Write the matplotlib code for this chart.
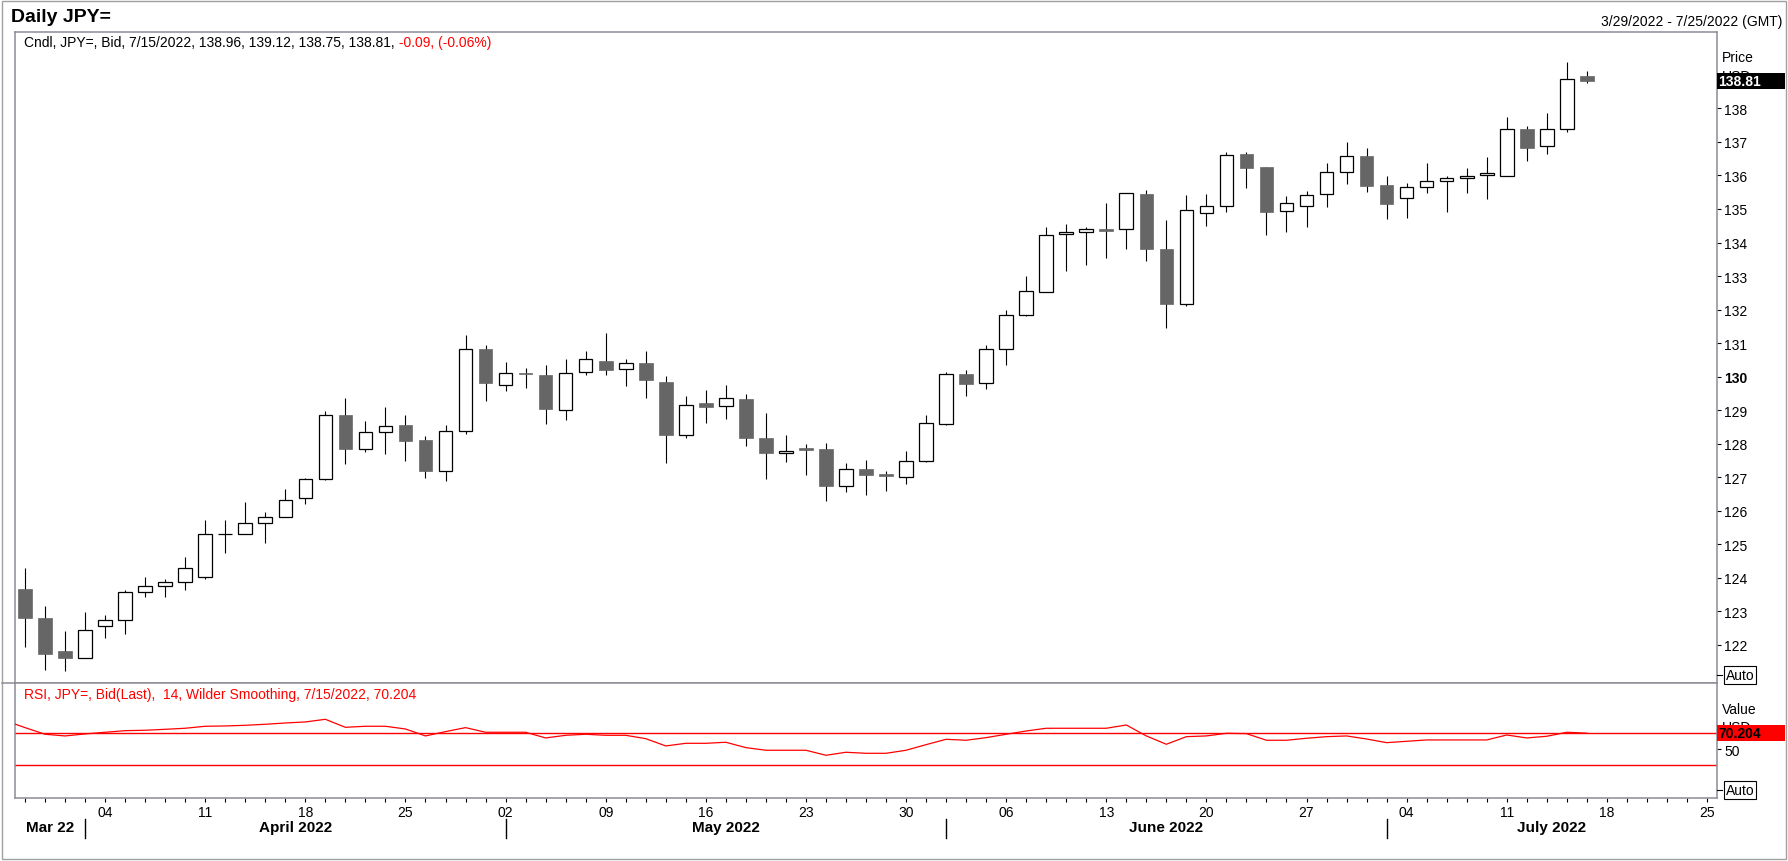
import numpy as np
import pandas as pd
import matplotlib
matplotlib.use("Agg")
import matplotlib.pyplot as plt
import matplotlib.transforms as mtransforms
from matplotlib.patches import Rectangle
from matplotlib.lines import Line2D

plt.rcParams['font.family'] = ['Liberation Sans', 'DejaVu Sans']

# daily USD/JPY candles, 3/29/2022 - 7/15/2022
dates = pd.bdate_range("2022-03-29", "2022-07-15")
axis_end = pd.Timestamp("2022-07-25")

opens = [123.67, 122.81, 121.82, 121.60, 122.56, 122.74, 123.57, 123.75, 123.87, 124.02,
         125.31, 125.31, 125.63, 125.81, 126.38, 126.95, 128.86, 127.84, 128.35, 128.57,
         128.12, 127.18, 128.38, 130.83, 129.75, 130.08, 130.05, 129.01, 130.15, 130.47,
         130.22, 130.41, 129.84, 128.27, 129.21, 129.11, 129.33, 128.16, 127.73, 127.86,
         127.83, 126.74, 127.25, 127.08, 127.02, 127.49, 128.59, 130.08, 129.80, 130.82,
         131.84, 132.53, 134.24, 134.30, 134.40, 134.39, 135.44, 133.80, 132.17, 134.87,
         135.08, 136.64, 136.25, 134.93, 135.08, 135.44, 136.09, 136.57, 135.71, 135.32,
         135.67, 135.85, 135.91, 136.00, 135.97, 137.40, 136.87, 137.40, 138.96]
highs = [124.28, 123.17, 122.42, 122.99, 122.90, 123.64, 124.03, 123.97, 124.63, 125.73,
         125.73, 126.27, 125.97, 126.66, 126.99, 128.96, 129.37, 128.69, 129.08, 128.84,
         128.22, 128.57, 131.23, 130.93, 130.45, 130.26, 130.35, 130.53, 130.77, 131.31,
         130.52, 130.77, 130.02, 129.42, 129.60, 129.75, 129.48, 128.91, 128.25, 128.00,
         128.03, 127.43, 127.52, 127.19, 127.77, 128.85, 130.14, 130.20, 130.95, 132.00,
         132.99, 134.45, 134.55, 134.45, 135.18, 135.47, 135.56, 134.67, 135.42, 135.45,
         136.69, 136.69, 136.25, 135.38, 135.53, 136.37, 136.99, 136.82, 135.98, 135.77,
         136.37, 135.97, 136.22, 136.55, 137.74, 137.49, 137.86, 139.38, 139.12]
lows = [121.92, 121.24, 121.21, 121.60, 122.19, 122.32, 123.42, 123.42, 123.62, 123.96,
        124.73, 125.31, 125.03, 125.81, 126.19, 126.91, 127.38, 127.74, 127.68, 127.47,
        126.97, 126.88, 128.28, 129.27, 129.56, 129.65, 128.58, 128.70, 130.04, 130.06,
        129.73, 129.37, 127.42, 128.17, 128.62, 128.74, 127.93, 126.94, 127.45, 127.06,
        126.28, 126.55, 126.46, 126.58, 126.79, 127.45, 128.56, 129.43, 129.62, 130.36,
        131.80, 132.53, 133.15, 133.33, 133.53, 133.81, 133.45, 131.46, 132.12, 134.50,
        134.90, 135.62, 134.23, 134.32, 134.47, 135.07, 135.75, 135.50, 134.71, 134.74,
        135.49, 134.92, 135.49, 135.30, 135.97, 136.44, 136.65, 137.30, 138.75]
closes = [122.79, 121.74, 121.62, 122.44, 122.74, 123.57, 123.75, 123.87, 124.29, 125.31,
          125.31, 125.63, 125.81, 126.32, 126.95, 128.86, 127.83, 128.35, 128.53, 128.07,
          127.18, 128.38, 130.83, 129.80, 130.11, 130.07, 129.03, 130.11, 130.53, 130.20,
          130.40, 129.91, 128.26, 129.14, 129.10, 129.35, 128.17, 127.72, 127.79, 127.81,
          126.73, 127.25, 127.06, 127.03, 127.49, 128.63, 130.07, 129.79, 130.82, 131.84,
          132.56, 134.21, 134.30, 134.39, 134.35, 135.47, 133.81, 132.17, 134.96, 135.08,
          136.60, 136.23, 134.92, 135.17, 135.41, 136.09, 136.57, 135.69, 135.16, 135.67,
          135.85, 135.91, 135.98, 136.07, 137.40, 136.83, 137.40, 138.89, 138.81]

# RSI(14), starting one session earlier (3/28) so the line enters from the left edge
rsi_values = [86.0,
              77.1, 68.8, 66.7, 69.2, 71.3, 73.3, 73.8, 75.0, 76.3, 78.8,
              79.2, 80.0, 81.3, 82.9, 84.2, 87.5, 77.5, 78.8, 78.8, 75.4,
              66.7, 72.1, 77.1, 71.3, 71.3, 71.3, 64.2, 67.5, 68.8,
              67.5, 67.5, 63.3, 54.2, 57.5, 57.5, 58.8, 52.1, 48.8, 48.8,
              48.8, 42.5, 46.3, 45.0, 45.0, 48.8, 55.8, 62.5, 61.3, 64.6,
              68.8, 72.9, 76.3, 76.3, 76.3, 76.3, 80.4, 66.7, 56.3, 65.8,
              66.7, 70.0, 69.6, 61.3, 61.3, 63.8, 65.8, 66.7, 62.9, 58.3,
              60.0, 61.7, 61.7, 61.7, 61.7, 67.9, 64.2, 66.3, 71.3, 70.2]
rsi_levels = [70, 30]

price_ticks = list(range(122, 139))
month_names = ["Mar 22", "April 2022", "May 2022", "June 2022", "July 2022"]

W, H = 1788, 862


def fx(px):
    return px / W


def fy(py):
    return 1 - py / H


axis_days = pd.bdate_range(dates[0], axis_end)
n_axis = len(axis_days)
x = np.arange(len(dates))
o = np.array(opens)
h = np.array(highs)
l = np.array(lows)
c = np.array(closes)

fig = plt.figure(figsize=(W / 100, H / 100), dpi=100)
ax = fig.add_axes([fx(15), fy(684), fx(1717) - fx(15), fy(33) - fy(684)])
ax_r = fig.add_axes([fx(15), fy(799), fx(1717) - fx(15), fy(684) - fy(799)], sharex=ax)

border = '#8c8c96'
for a in (ax, ax_r):
    for s in a.spines.values():
        s.set_color(border)
        s.set_linewidth(1.1)

# candles: wicks first, bodies on top
up = c >= o
body_lo = np.minimum(o, c)
body_h = np.abs(c - o)
ax.vlines(x, l, h, color='black', lw=0.8, zorder=2)
ax.bar(x[up], body_h[up], bottom=body_lo[up], width=0.68, facecolor='white',
       edgecolor='black', linewidth=0.9, zorder=3)
ax.bar(x[~up], np.maximum(body_h[~up], 0.03), bottom=body_lo[~up], width=0.68,
       facecolor='#666666', edgecolor='#666666', linewidth=0.5, zorder=3)

ax.set_xlim(-0.5, n_axis - 0.5)
ax.set_ylim(120.86, 140.28)
ax.yaxis.tick_right()
ax.set_yticks(price_ticks, [str(t) for t in price_ticks])
for lab in ax.get_yticklabels():
    if lab.get_text() == '130':
        lab.set_fontweight('bold')
ax.tick_params(axis='y', direction='out', length=3, width=0.8, pad=2, labelsize=10)
ax.tick_params(axis='x', bottom=False, labelbottom=False)

# RSI panel
ax_r.plot(np.arange(-1, len(rsi_values) - 1), rsi_values, color='#ff0000', lw=0.9, zorder=3)
for lev in rsi_levels:
    ax_r.axhline(lev, color='#ff0000', lw=1.0, zorder=2)
ax_r.set_ylim(-10.9, 132.9)
ax_r.yaxis.tick_right()
ax_r.set_yticks([50], ['50'])
ax_r.tick_params(axis='y', direction='out', length=3, width=0.8, pad=2, labelsize=10)

tick_labels = [d.strftime('%d') if d.weekday() == 0 else '' for d in axis_days]
ax_r.set_xticks(np.arange(n_axis), tick_labels)
ax_r.tick_params(axis='x', direction='out', length=3, width=0.8, pad=2, labelsize=10)

# month labels and separators under the axis
trans = mtransforms.blended_transform_factory(ax_r.transData, fig.transFigure)
months = axis_days.to_period('M')
starts = [0] + [i for i in range(1, n_axis) if months[i] != months[i - 1]]
edges = [-0.5] + starts[1:] + [n_axis - 0.5]
for k, name in enumerate(month_names):
    ax_r.text((edges[k] + edges[k + 1]) / 2, fy(828), name, transform=trans,
              ha='center', va='center', fontsize=11, fontweight='bold')
for s in starts[1:]:
    fig.add_artist(Line2D([s, s], [fy(820), fy(839)], transform=trans, color='black', lw=1.0))

# header texts
fig.text(fx(11), fy(18), 'Daily JPY=', fontsize=14, fontweight='bold', va='center', ha='left')
fig.text(fx(1782), fy(22), '3/29/2022 - 7/25/2022 (GMT)', fontsize=10, va='center', ha='right')
t1 = fig.text(fx(24), fy(43), 'Cndl, JPY=, Bid, 7/15/2022, 138.96, 139.12, 138.75, 138.81,',
              fontsize=10, va='center', ha='left')
# red change part, placed right after the black part
fig.add_artist(matplotlib.text.Annotation(' -0.09, (-0.06%)', xy=(1, 0), xycoords=t1,
                                          va='bottom', ha='left', fontsize=10, color='#ff0000'))
fig.text(fx(24), fy(695), 'RSI, JPY=, Bid(Last),  14, Wilder Smoothing, 7/15/2022, 70.204',
         fontsize=10, va='center', ha='left', color='#ff0000')

# right-hand labels and value boxes (USD sits partly under the box, as in the original)
fig.text(fx(1722), fy(58), 'Price', fontsize=10, va='center', ha='left')
fig.text(fx(1722), fy(77), 'USD', fontsize=10, va='center', ha='left', zorder=4)
fig.add_artist(Rectangle((fx(1717), fy(90)), fx(1785) - fx(1717), fy(74) - fy(90),
                         transform=fig.transFigure, facecolor='black', edgecolor='none', zorder=5))
fig.text(fx(1718), fy(82), f'{closes[-1]:.2f}', fontsize=10, fontweight='bold', color='white',
         va='center', ha='left', zorder=6)

fig.text(fx(1722), fy(710), 'Value', fontsize=10, va='center', ha='left')
fig.text(fx(1722), fy(728), 'USD', fontsize=10, va='center', ha='left', zorder=4)
fig.add_artist(Rectangle((fx(1717), fy(742)), fx(1785) - fx(1717), fy(726) - fy(742),
                         transform=fig.transFigure, facecolor='#ff0000', edgecolor='none', zorder=5))
fig.text(fx(1718), fy(734), f'{rsi_values[-1] + 0.004:.3f}', fontsize=10, fontweight='bold',
         color='black', va='center', ha='left', zorder=6)

for yc in (676, 791):
    fig.add_artist(Line2D([fx(1717), fx(1722)], [fy(yc), fy(yc)], color='black', lw=0.8))
    fig.text(fx(1726), fy(yc), 'Auto', fontsize=10, va='center', ha='left',
             bbox=dict(boxstyle='square,pad=0.12', facecolor='white', edgecolor='black', lw=0.8))

# outer frame and panel separator stub
fig.add_artist(Rectangle((fx(2), fy(860)), fx(1786) - fx(2), fy(2) - fy(860), fill=False,
                         edgecolor='#a0a0a0', lw=1.0, transform=fig.transFigure))
fig.add_artist(Line2D([fx(2), fx(15)], [fy(684), fy(684)], color=border, lw=1.1))

fig.savefig('out.png', dpi=100)
